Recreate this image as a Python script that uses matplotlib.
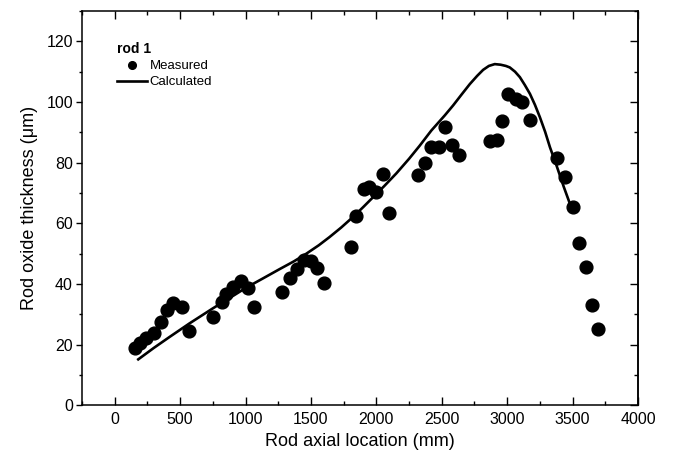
import matplotlib
matplotlib.use("Agg")
import matplotlib.pyplot as plt
from matplotlib.ticker import MultipleLocator

plt.rcParams['font.family'] = ['Liberation Sans', 'DejaVu Sans']

# Measured oxide thickness (rod 1)
meas_x = [155, 193, 243, 297, 354, 400, 448, 514, 565, 754, 821, 851, 907, 966,
          1022, 1068, 1282, 1338, 1395, 1445, 1497, 1548, 1601, 1805, 1846, 1906,
          1943, 1994, 2050, 2093, 2318, 2375, 2421, 2477, 2528, 2578, 2630, 2867,
          2923, 2964, 3007, 3064, 3114, 3175, 3382, 3441, 3500, 3546, 3602, 3650,
          3696]
meas_y = [18.8, 20.7, 22.1, 23.8, 27.6, 31.4, 33.8, 32.5, 24.5, 29.2, 34.1, 36.9,
          38.9, 41.1, 38.8, 32.6, 37.4, 42.0, 45.1, 47.9, 47.6, 45.3, 40.2, 52.2,
          62.5, 71.4, 71.9, 70.2, 76.2, 63.5, 75.8, 79.9, 85.1, 85.1, 91.9, 86.0,
          82.4, 87.0, 87.6, 93.9, 102.7, 101.1, 99.9, 94.1, 81.5, 75.3, 65.4, 53.6,
          45.5, 33.0, 25.2]

# Calculated curve
calc_x = [180, 300, 420, 570, 750, 900, 1004, 1130, 1259, 1370, 1464, 1560, 1642,
          1730, 1821, 1900, 1974, 2060, 2153, 2250, 2331, 2420, 2523, 2587, 2650,
          2714, 2770, 2816, 2860, 2905, 2950, 2990, 3020, 3060, 3097, 3135, 3174,
          3212, 3250, 3290, 3327, 3377, 3433, 3492]
calc_y = [15.2, 19.0, 22.6, 27.0, 32.0, 36.0, 38.8, 41.8, 44.9, 47.5, 50.0, 52.8,
          55.5, 58.6, 62.1, 65.4, 68.6, 72.3, 76.5, 81.3, 85.6, 90.6, 95.6, 98.9,
          102.4, 105.9, 108.6, 110.6, 111.9, 112.5, 112.3, 111.9, 111.4, 110.0,
          108.2, 105.6, 102.7, 99.1, 95.0, 90.2, 85.1, 79.1, 72.0, 65.0]

fig = plt.figure(figsize=(6.76, 4.53), dpi=100)
ax = fig.add_axes([0.1213, 0.1049, 0.8225, 0.8708])

ax.plot(meas_x, meas_y, 'o', color='black', markersize=9.2, label='Measured')
ax.plot(calc_x, calc_y, '-', color='black', linewidth=1.9, label='Calculated')

ax.set_xlim(-250, 4000)
ax.set_ylim(0, 130)
ax.xaxis.set_major_locator(MultipleLocator(500))
ax.xaxis.set_minor_locator(MultipleLocator(250))
ax.yaxis.set_major_locator(MultipleLocator(20))
ax.yaxis.set_minor_locator(MultipleLocator(10))
ax.set_yticks([0, 20, 40, 60, 80, 100, 120])

for s in ax.spines.values():
    s.set_linewidth(1.1)

ax.tick_params(axis='x', which='both', direction='in', top=True, width=1.0,
               labelsize=11.5, pad=5)
ax.tick_params(axis='x', which='major', length=5.5)
ax.tick_params(axis='x', which='minor', length=3)
ax.tick_params(axis='y', which='both', direction='out', right=False, width=1.0,
               labelsize=11.5, pad=2)
ax.tick_params(axis='y', which='major', length=4.5)
ax.tick_params(axis='y', which='minor', length=2)

# right axis ticks point inward
ax2 = ax.secondary_yaxis('right')
ax2.yaxis.set_major_locator(MultipleLocator(20))
ax2.yaxis.set_minor_locator(MultipleLocator(10))
ax2.tick_params(which='both', direction='in', labelright=False, width=1.0)
ax2.tick_params(which='major', length=5.5)
ax2.tick_params(which='minor', length=3)
ax2.spines['right'].set_linewidth(1.1)

ax.set_xlabel('Rod axial location (mm)', fontsize=13, labelpad=4)
ax.set_ylabel('Rod oxide thickness (\u03bcm)', fontsize=13, labelpad=6)

leg = ax.legend(loc='upper left', bbox_to_anchor=(0.046, 0.945), frameon=False,
                title='rod 1', title_fontproperties={'weight': 'bold', 'size': 10},
                fontsize=9.5, markerscale=0.6, handlelength=2.3, handletextpad=0.2,
                labelspacing=0.3, borderpad=0.2, alignment='left')

fig.savefig('out.png', dpi=100)
